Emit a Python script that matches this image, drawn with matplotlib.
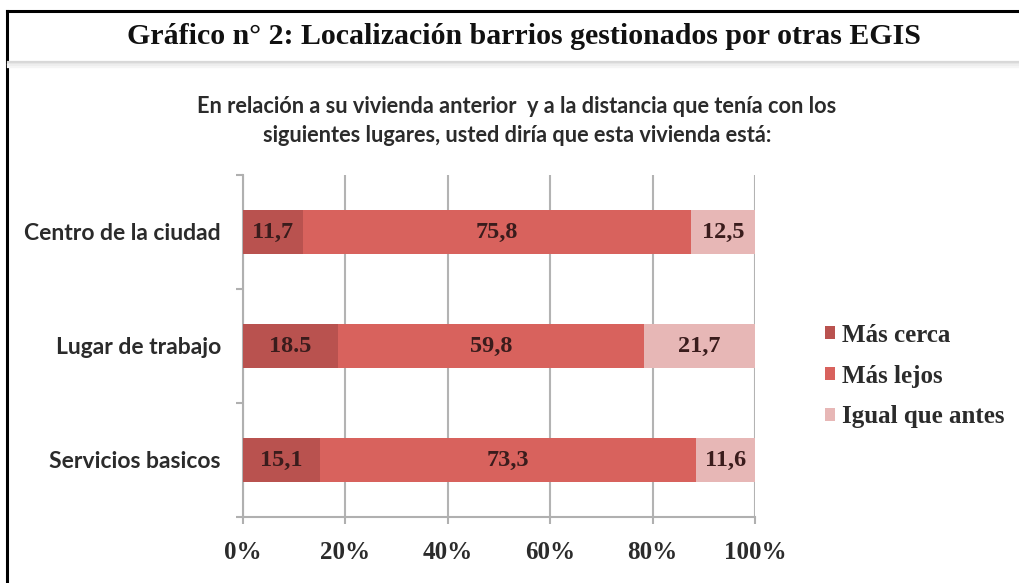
import matplotlib.pyplot as plt
import numpy as np

# datos
categorias = ["Centro de la ciudad", "Lugar de trabajo", "Servicios basicos"]
series = ["Más cerca", "Más lejos", "Igual que antes"]
mas_cerca = [11.7, 18.5, 15.1]
mas_lejos = [75.8, 59.8, 73.3]
igual = [12.5, 21.7, 11.6]
etiquetas = [["11,7", "18.5", "15,1"], ["75,8", "59,8", "73,3"], ["12,5", "21,7", "11,6"]]
colores = ["#b9524f", "#d8625d", "#e7b7b6"]
ticks_x = ["0%", "20%", "40%", "60%", "80%", "100%"]

serif = ["Liberation Serif", "DejaVu Serif"]
sans = ["Lato", "DejaVu Sans"]

fig = plt.figure(figsize=(10.19, 5.83), dpi=100)

# marco y cabecera
fig.add_artist(plt.Line2D([7 / 1019, 7 / 1019], [0, 1 - 11 / 583], color="black", lw=2.2))
fig.add_artist(plt.Line2D([7 / 1019, 1], [1 - 11 / 583, 1 - 11 / 583], color="black", lw=2.2))
for i, c in enumerate(["#d8d8d8", "#e4e4e4", "#eeeeee", "#f5f5f5"]):
    y = 1 - (62 + i * 1.5) / 583
    fig.add_artist(plt.Line2D([8 / 1019, 1], [y, y], color=c, lw=1.6))
fig.text(524 / 1019, 1 - 37 / 583, "Gráfico n° 2: Localización barrios gestionados por otras EGIS",
         ha="center", va="center", fontsize=21.5, fontweight="bold", family=serif, color="#111111")
fig.text(517 / 1019, 1 - 121 / 583,
         "En relación a su vivienda anterior  y a la distancia que tenía con los\nsiguientes lugares, usted diría que esta vivienda está:",
         ha="center", va="center", fontsize=15.7, fontweight="bold", family=sans, color="#2b2b2b",
         linespacing=1.5)

ax = fig.add_axes([243 / 1019, 66 / 583, 512 / 1019, 342 / 583])
y = np.arange(len(categorias))
izq = np.zeros(len(categorias))
for vals, nombre, col, labs in zip([mas_cerca, mas_lejos, igual], series, colores, etiquetas):
    bars = ax.barh(y, vals, left=izq, height=0.39, color=col, label=nombre, zorder=3)
    for b, lab in zip(bars, labs):
        ax.text(b.get_x() + b.get_width() / 2, b.get_y() + b.get_height() / 2, lab,
                ha="center", va="center", fontsize=17.5, fontweight="bold", family=serif,
                color="#3a1c1c", zorder=4)
    izq += np.array(vals)

ax.set_xlim(0, 100)
ax.set_ylim(2.5, -0.5)
ax.set_xticks(np.arange(0, 101, 20))
ax.set_xticklabels(ticks_x, fontsize=18, fontweight="bold", family=serif, color="#2b2b2b")
ax.set_yticks(y)
ax.set_yticklabels(categorias, fontsize=16.5, fontweight="bold", family=sans, color="#2b2b2b")
ax.set_yticks([-0.5, 0.5, 1.5, 2.5], minor=True)
ax.tick_params(axis="y", which="major", length=0, pad=16)
ax.tick_params(axis="y", which="minor", length=5, color="#b0b0b0", width=1.5)
ax.tick_params(axis="x", length=5, color="#b0b0b0", width=1.5, pad=12)
ax.grid(axis="x", color="#b3b3b3", lw=1.5, zorder=0)
for s in ["top", "right"]:
    ax.spines[s].set_visible(False)
for s in ["left", "bottom"]:
    ax.spines[s].set_color("#b0b0b0")
    ax.spines[s].set_linewidth(1.5)

leg = fig.legend(loc="upper left", bbox_to_anchor=(802 / 1019, 1 - 301 / 583), frameon=False,
                 prop={"family": serif, "weight": "bold", "size": 18},
                 handlelength=0.4, handleheight=0.4, handletextpad=0.3, labelspacing=0.72)
for t in leg.get_texts():
    t.set_color("#2b2b2b")

fig.savefig("out.png", dpi=100)
